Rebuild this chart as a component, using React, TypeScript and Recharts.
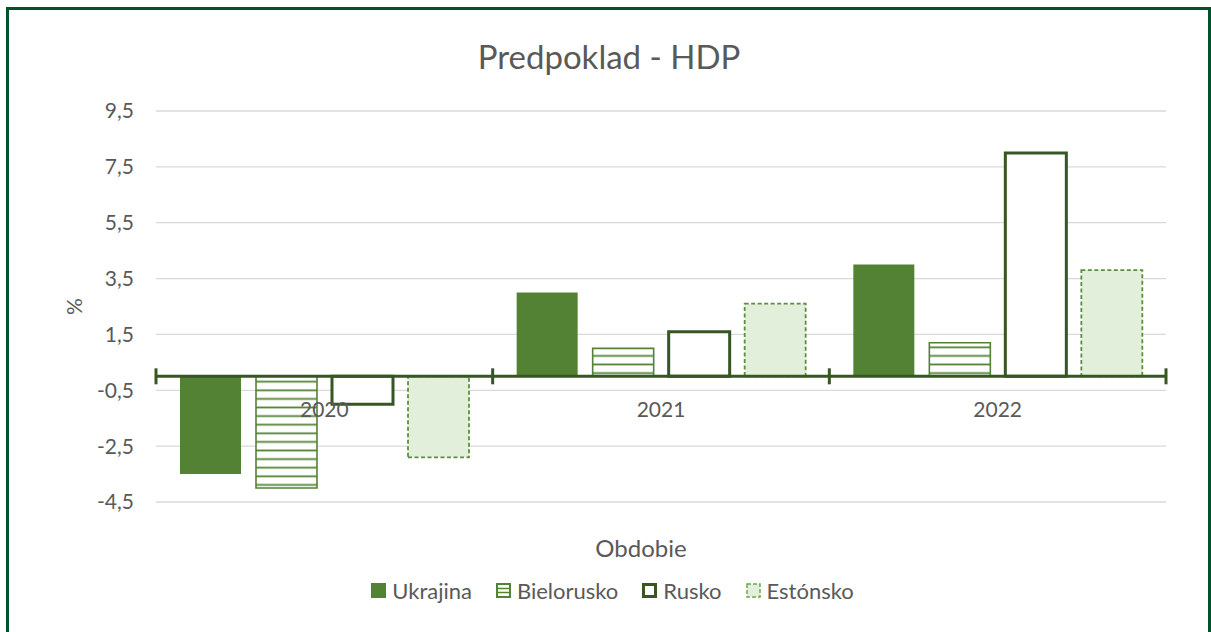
import { BarChart, Bar, XAxis, YAxis, CartesianGrid, ReferenceLine, Legend, Label } from 'recharts';

const categories = ['2020', '2021', '2022'];
const seriesNames = ['Ukrajina', 'Bielorusko', 'Rusko', 'Estónsko'];
const ukrajina = [-3.5, 3.0, 4.0];
const bielorusko = [-4.0, 1.0, 1.2];
const rusko = [-1.0, 1.6, 8.0];
const estonsko = [-2.9, 2.6, 3.8];
const yTicks = [-4.5, -2.5, -0.5, 1.5, 3.5, 5.5, 7.5, 9.5];

const data = categories.map((c, i) => ({
  obdobie: c,
  Ukrajina: ukrajina[i],
  Bielorusko: bielorusko[i],
  Rusko: rusko[i],
  'Estónsko': estonsko[i],
}));

const FONT = 'Lato, "Open Sans", sans-serif';
const TEXT = '#595959';
const GREEN = '#548235';
const DARK = '#375623';
const LIGHT = '#E2EFDA';

const fmt = (v: number) => v.toFixed(1).replace('.', ',');

// zero line with category ticks and labels, drawn like Excel's crossing axis
const ZeroAxis = (props: any) => {
  const { x1, x2, y1 } = props;
  const step = (x2 - x1) / categories.length;
  return (
    <g>
      <line x1={x1} x2={x2} y1={y1} y2={y1} stroke={DARK} strokeWidth={3} />
      {[0, 1, 2, 3].map((i) => (
        <line key={i} x1={x1 + step * i} x2={x1 + step * i} y1={y1 - 8} y2={y1 + 8} stroke={DARK} strokeWidth={3} />
      ))}
      {categories.map((c, i) => (
        <text
          key={c}
          x={x1 + step * (i + 0.5)}
          y={y1 + 32}
          textAnchor="middle"
          dominantBaseline="central"
          fontSize={21}
          fontFamily={FONT}
          fill={TEXT}
        >
          {c}
        </text>
      ))}
    </g>
  );
};

const LegendIcon = ({ name }: { name: string }) => {
  if (name === 'Ukrajina') {
    return (
      <svg width={15} height={15}>
        <rect x={0} y={0} width={15} height={15} fill={GREEN} />
      </svg>
    );
  }
  if (name === 'Bielorusko') {
    return (
      <svg width={15} height={15}>
        <rect x={1} y={1} width={13} height={13} fill="#fff" stroke={GREEN} strokeWidth={2} />
        <line x1={1} x2={14} y1={5.5} y2={5.5} stroke={GREEN} strokeWidth={1.5} />
        <line x1={1} x2={14} y1={9.5} y2={9.5} stroke={GREEN} strokeWidth={1.5} />
      </svg>
    );
  }
  if (name === 'Rusko') {
    return (
      <svg width={15} height={15}>
        <rect x={1.5} y={1.5} width={12} height={12} fill="#fff" stroke={DARK} strokeWidth={3} />
      </svg>
    );
  }
  return (
    <svg width={15} height={15}>
      <rect x={1} y={1} width={13} height={13} fill={LIGHT} stroke="#6FA84B" strokeWidth={1.5} strokeDasharray="4 2" />
    </svg>
  );
};

const renderLegend = (props: any) => {
  const payload = [...(props.payload || [])].sort(
    (a: any, b: any) => seriesNames.indexOf(a.value) - seriesNames.indexOf(b.value)
  );
  return (
    <div style={{ display: 'flex', justifyContent: 'center', paddingLeft: 38, fontFamily: FONT, fontSize: 22, color: TEXT }}>
      {payload.map((p: any) => (
        <div key={p.value} style={{ display: 'flex', alignItems: 'center', marginRight: 24 }}>
          <LegendIcon name={p.value} />
          <span style={{ marginLeft: 6 }}>{p.value}</span>
        </div>
      ))}
    </div>
  );
};

const renderPct = (props: any) => {
  const vb = props.viewBox;
  const cx = vb.x - 23;
  const cy = vb.y + vb.height / 2;
  return (
    <text
      x={cx}
      y={cy}
      transform={`rotate(-90, ${cx}, ${cy})`}
      textAnchor="middle"
      dominantBaseline="central"
      fontSize={21}
      fontFamily={FONT}
      fill={TEXT}
    >
      %
    </text>
  );
};

export default function App() {
  return (
    <div>
      <div
        style={{
          position: 'absolute',
          left: 6,
          top: 7,
          width: 1205,
          height: 625,
          boxSizing: 'border-box',
          border: '3px solid #00522A',
          borderBottom: 'none',
        }}
      />
      <div
        style={{
          position: 'absolute',
          left: 7,
          top: 36,
          width: 1204,
          textAlign: 'center',
          fontFamily: FONT,
          fontSize: 33,
          color: TEXT,
          lineHeight: '40px',
        }}
      >
        Predpoklad - HDP
      </div>
      <div
        style={{
          position: 'absolute',
          left: 441,
          top: 533,
          width: 400,
          textAlign: 'center',
          fontFamily: FONT,
          fontSize: 24,
          color: TEXT,
          lineHeight: '30px',
        }}
      >
        Obdobie
      </div>
      <div style={{ position: 'absolute', left: 0, top: 0 }}>
        <BarChart
          width={1211}
          height={632}
          data={data}
          margin={{ top: 111, right: 45, bottom: 130, left: 96 }}
          barCategoryGap={24}
          barGap={15}
        >
          <defs>
            <pattern id="hatch" patternUnits="userSpaceOnUse" width={8} height={8.6}>
              <rect x={0} y={0} width={8} height={8.6} fill="#fff" />
              <line x1={0} x2={8} y1={3.3} y2={3.3} stroke={GREEN} strokeWidth={1.8} />
            </pattern>
          </defs>
          <CartesianGrid vertical={false} stroke="#D9D9D9" strokeWidth={1.3} />
          <XAxis dataKey="obdobie" hide />
          <YAxis
            domain={[-4.5, 9.5]}
            ticks={yTicks}
            tickFormatter={fmt}
            axisLine={false}
            tickLine={false}
            tickSize={0}
            tickMargin={22}
            width={60}
            tick={{ fontSize: 21, fontFamily: FONT, fill: TEXT }}
            interval={0}
          >
            <Label content={renderPct} />
          </YAxis>
          <Bar dataKey="Ukrajina" fill={GREEN} isAnimationActive={false} />
          <Bar dataKey="Bielorusko" fill="url(#hatch)" stroke={GREEN} strokeWidth={1.6} isAnimationActive={false} />
          <Bar dataKey="Rusko" fill="#fff" stroke={DARK} strokeWidth={3} isAnimationActive={false} />
          <Bar
            dataKey="Estónsko"
            fill={LIGHT}
            stroke="#5E8E3C"
            strokeWidth={1.8}
            strokeDasharray="4 2.5"
            isAnimationActive={false}
          />
          <ReferenceLine y={0} shape={ZeroAxis} />
          <Legend
            content={renderLegend}
            layout="horizontal"
            verticalAlign="middle"
            align="center"
            wrapperStyle={{ top: 577, left: 0, width: 1211 }}
          />
        </BarChart>
      </div>
    </div>
  );
}
